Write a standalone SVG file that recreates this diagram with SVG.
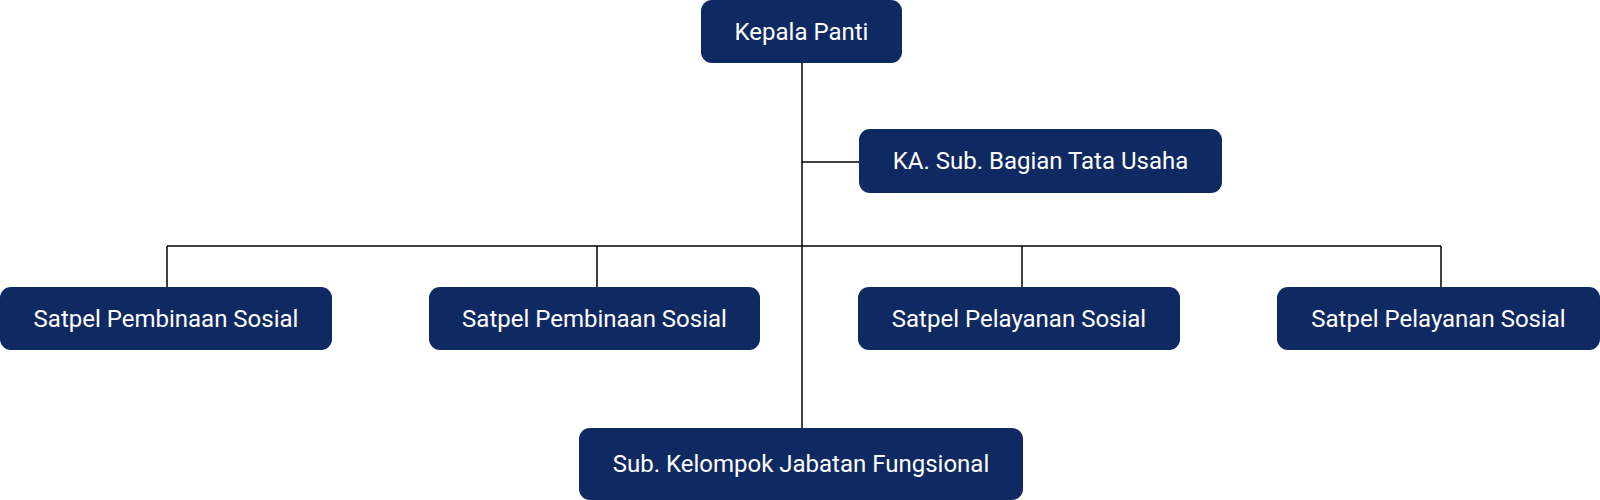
<svg xmlns="http://www.w3.org/2000/svg" width="1600" height="500" viewBox="0 0 1600 500">
<style>
.box{fill:#0f2a62}
.lbl{fill:#ffffff;font-family:Roboto,"Liberation Sans",sans-serif;font-size:24px;font-weight:400;text-anchor:middle;dominant-baseline:central}
.con{fill:none;stroke:#000000;stroke-width:1.5}
</style>
<rect width="1600" height="500" fill="#ffffff"/>
<g id="connectors">
<path class="con" d="M802 63 V428"/>
<path class="con" d="M802 162 H859"/>
<path class="con" d="M167 246 H1441"/>
<path class="con" d="M167 246 V287"/>
<path class="con" d="M597 246 V287"/>
<path class="con" d="M1022 246 V287"/>
<path class="con" d="M1441 246 V287"/>
</g>
<g id="kepala">
<rect class="box" x="701" y="0" width="201" height="63" rx="11"/>
<text class="lbl" x="801.5" y="32">Kepala Panti</text>
</g>
<g id="ka-sub">
<rect class="box" x="859" y="129" width="363" height="64" rx="11"/>
<text class="lbl" x="1040.5" y="161">KA. Sub. Bagian Tata Usaha</text>
</g>
<g id="satpel1">
<rect class="box" x="0" y="287" width="332" height="63" rx="11"/>
<text class="lbl" x="166" y="318.5">Satpel Pembinaan Sosial</text>
</g>
<g id="satpel2">
<rect class="box" x="429" y="287" width="331" height="63" rx="11"/>
<text class="lbl" x="594.5" y="318.5">Satpel Pembinaan Sosial</text>
</g>
<g id="satpel3">
<rect class="box" x="858" y="287" width="322" height="63" rx="11"/>
<text class="lbl" x="1019" y="318.5">Satpel Pelayanan Sosial</text>
</g>
<g id="satpel4">
<rect class="box" x="1277" y="287" width="323" height="63" rx="11"/>
<text class="lbl" x="1438.5" y="318.5">Satpel Pelayanan Sosial</text>
</g>
<g id="subkelompok">
<rect class="box" x="579" y="428" width="444" height="72" rx="11"/>
<text class="lbl" x="801" y="464">Sub. Kelompok Jabatan Fungsional</text>
</g>
</svg>
